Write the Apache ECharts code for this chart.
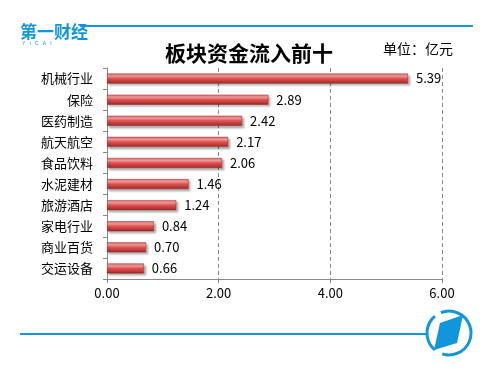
<!DOCTYPE html>
<html><head><meta charset="utf-8">
<script src="https://cdn.jsdelivr.net/npm/echarts@6/dist/echarts.min.js"></script>
<style>html,body{margin:0;padding:0;background:#fff}#c{width:500px;height:373px}</style>
</head><body><div id="c"></div>
<script>
const categories = ['机械行业','保险','医药制造','航天航空','食品饮料','水泥建材','旅游酒店','家电行业','商业百货','交运设备'];
const values = [5.39, 2.89, 2.42, 2.17, 2.06, 1.46, 1.24, 0.84, 0.70, 0.66];
const xTicks = [0, 2, 4, 6];
const titleText = '板块资金流入前十';
const unitText = '单位：亿元';

const font = '"Noto Sans CJK SC", "Noto Sans", sans-serif';
const blue = '#1296db';
const chart = echarts.init(document.getElementById('c'), null, {renderer: 'canvas'});
chart.setOption({
  animation: false,
  backgroundColor: '#fff',
  title: {
    text: titleText, left: 244, top: 38, textAlign: 'center',
    textStyle: {fontFamily: font, fontSize: 21, fontWeight: 'bold', color: '#000'}
  },
  grid: {left: 107, right: 58, top: 68, bottom: 94},
  xAxis: {
    type: 'value', min: xTicks[0], max: xTicks[xTicks.length - 1], interval: 2,
    axisLine: {show: true, lineStyle: {color: '#888', width: 1}},
    axisTick: {show: true, length: 4, lineStyle: {color: '#888'}},
    axisLabel: {formatter: v => v.toFixed(2), color: '#000', fontFamily: font, fontSize: 13, margin: 8},
    splitLine: {show: true, lineStyle: {color: '#888', type: [4, 3], width: 1}}
  },
  yAxis: {
    type: 'category', data: categories, inverse: true,
    axisLine: {show: true, lineStyle: {color: '#888', width: 1}},
    axisTick: {show: true, length: 4, lineStyle: {color: '#888'}},
    axisLabel: {color: '#000', fontFamily: font, fontSize: 13, margin: 14}
  },
  series: [{
    type: 'bar', data: values, barWidth: 10,
    itemStyle: {
      color: new echarts.graphic.LinearGradient(0, 0, 0, 1, [
        {offset: 0, color: '#e46464'},
        {offset: 0.25, color: '#f7a2a2'},
        {offset: 0.5, color: '#e05252'},
        {offset: 0.85, color: '#b83434'},
        {offset: 1, color: '#8a2424'}
      ]),
      borderColor: '#9a2e2e', borderWidth: 0.5,
      shadowColor: 'rgba(0,0,0,0.3)', shadowOffsetX: 2, shadowOffsetY: 2, shadowBlur: 2
    },
    label: {show: true, position: 'right', distance: 8, formatter: p => p.value.toFixed(2),
      color: '#000', fontFamily: font, fontSize: 13}
  }],
  graphic: [
    {type: 'line', shape: {x1: 80, y1: 26, x2: 473, y2: 26}, style: {stroke: blue, lineWidth: 2}},
    {type: 'text', left: 20, top: 23, style: {text: '第一财经', fill: blue, font: 'bold 17px ' + font}},
    {type: 'text', left: 22, top: 41, style: {text: 'Y   I   C   A   I', fill: blue, font: '5px sans-serif'}},
    {type: 'text', left: 383, top: 42, style: {text: unitText, fill: '#000', font: '14px ' + font}},
    {type: 'line', shape: {x1: 20, y1: 334, x2: 426, y2: 334}, style: {stroke: blue, lineWidth: 2}},
    {type: 'arc', shape: {cx: 449, cy: 333, r: 22, startAngle: -Math.PI * 0.62, endAngle: Math.PI * 0.6}, style: {stroke: blue, lineWidth: 3, fill: null}},
    {type: 'arc', shape: {cx: 449, cy: 333, r: 22, startAngle: Math.PI * 0.72, endAngle: Math.PI * 1.28}, style: {stroke: blue, lineWidth: 3, fill: null}},
    {type: 'polygon', shape: {points: [[440, 323], [463, 315], [457, 343], [434, 350]]}, style: {fill: blue}}
  ]
});
</script></body></html>
